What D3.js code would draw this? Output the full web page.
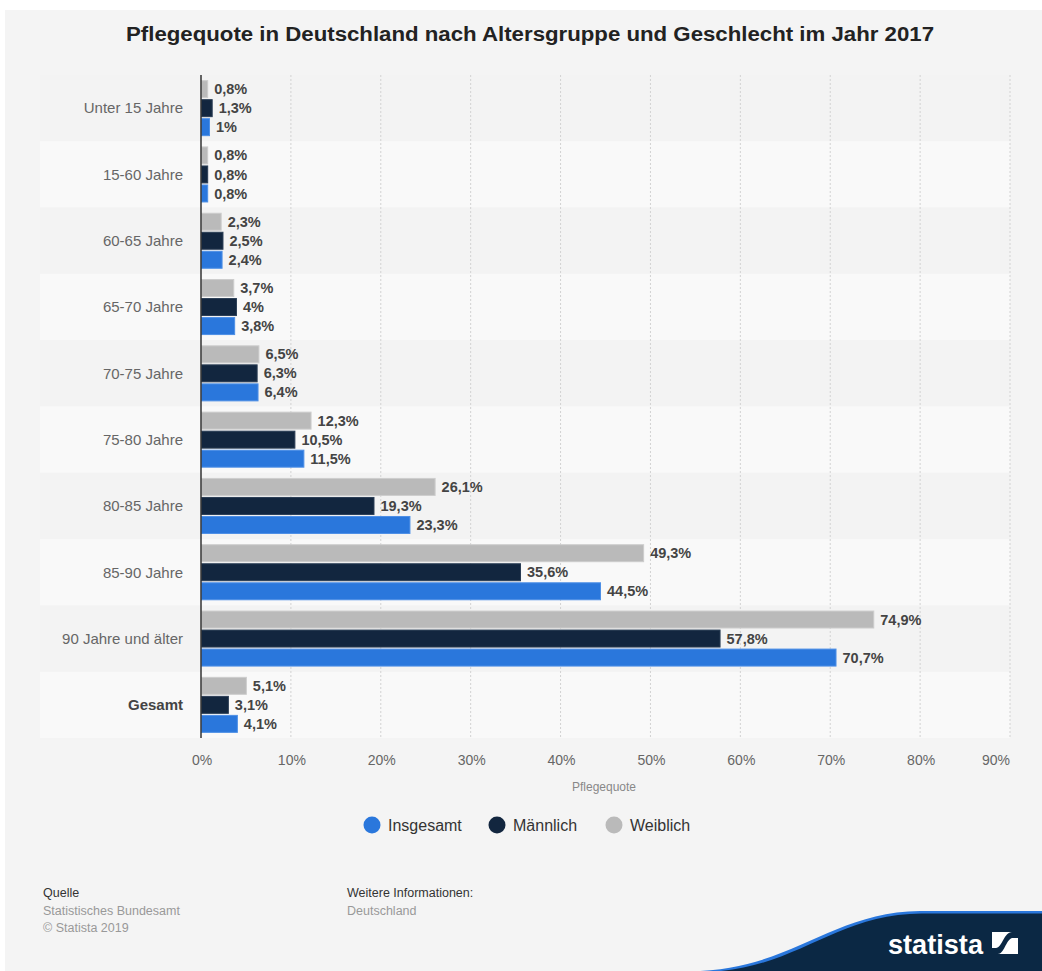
<!DOCTYPE html>
<html>
<head>
<meta charset="utf-8">
<script src="https://cdn.jsdelivr.net/npm/d3@7/dist/d3.min.js"></script>
<style>
  html, body { margin: 0; padding: 0; background: #ffffff; }
  svg { display: block; font-family: "Liberation Sans", Arial, Helvetica, sans-serif; }
</style>
</head>
<body>
<svg id="chart" width="1042" height="971"></svg>
<script>
// ---- Data ----
const categories = ["Unter 15 Jahre", "15-60 Jahre", "60-65 Jahre", "65-70 Jahre", "70-75 Jahre",
  "75-80 Jahre", "80-85 Jahre", "85-90 Jahre", "90 Jahre und älter", "Gesamt"];
const weiblich  = [0.8, 0.8, 2.3, 3.7, 6.5, 12.3, 26.1, 49.3, 74.9, 5.1];
const maennlich = [1.3, 0.8, 2.5, 4.0, 6.3, 10.5, 19.3, 35.6, 57.8, 3.1];
const insgesamt = [1.0, 0.8, 2.4, 3.8, 6.4, 11.5, 23.3, 44.5, 70.7, 4.1];
const seriesNames = ["Weiblich", "Männlich", "Insgesamt"];
const legendOrder = ["Insgesamt", "Männlich", "Weiblich"];
const tickValues = [0, 10, 20, 30, 40, 50, 60, 70, 80, 90];
const colors = { "Insgesamt": "#2a77dc", "Männlich": "#12263f", "Weiblich": "#bababa" };
const strokes = { "Insgesamt": "#4d8fe6", "Männlich": "#2a3d55", "Weiblich": "#cdcdcd" };

const seriesValues = { "Weiblich": weiblich, "Männlich": maennlich, "Insgesamt": insgesamt };

const svg = d3.select("#chart");

// background panel
svg.append("rect").attr("x", 5).attr("y", 10).attr("width", 1037).attr("height", 961).attr("fill", "#f4f4f4");

// title
svg.append("text").attr("x", 530).attr("y", 41).attr("text-anchor", "middle")
  .attr("font-size", 20).attr("font-weight", "bold").attr("fill", "#222")
  .attr("textLength", 808).attr("lengthAdjust", "spacingAndGlyphs")
  .text("Pflegequote in Deutschland nach Altersgruppe und Geschlecht im Jahr 2017");

// scales
const x = d3.scaleLinear().domain([0, 90]).range([201, 1010]);
const y = d3.scaleBand().domain(categories).range([75, 738]);
const yInner = d3.scaleBand().domain(seriesNames).range([0, y.bandwidth()])
  .paddingInner(0.055).paddingOuter(0.27);

// alternating row backgrounds
svg.append("g").selectAll("rect").data(categories).join("rect")
  .attr("x", 40).attr("width", x(90) - 40)
  .attr("y", d => y(d)).attr("height", y.bandwidth())
  .attr("fill", (d, i) => i % 2 === 0 ? "#f3f3f3" : "#f9f9f9");

// grid lines
svg.append("g").selectAll("line").data(tickValues.filter(t => t > 0)).join("line")
  .attr("x1", d => x(d)).attr("x2", d => x(d))
  .attr("y1", 75).attr("y2", 738)
  .attr("stroke", "#d2d2d2").attr("stroke-width", 1).attr("stroke-dasharray", "2,2");

// bars
const rows = categories.map((c, i) => ({ cat: c, i }));
const groups = svg.append("g").selectAll("g").data(rows).join("g")
  .attr("transform", d => `translate(0,${y(d.cat)})`);

const fmt = v => String(v).replace(".", ",") + "%";

groups.each(function (r) {
  const g = d3.select(this);
  const items = seriesNames.map(s => ({ s, v: seriesValues[s][r.i] }));
  g.selectAll("rect").data(items).join("rect")
    .attr("x", x(0) + 0.5)
    .attr("y", d => yInner(d.s) + 0.5)
    .attr("width", d => Math.max(0, x(d.v) - x(0) - 1))
    .attr("height", yInner.bandwidth() - 1)
    .attr("fill", d => colors[d.s])
    .attr("stroke", d => strokes[d.s]).attr("stroke-width", 1);
  g.selectAll("text").data(items).join("text")
    .attr("x", d => x(d.v) + 6)
    .attr("y", d => yInner(d.s) + yInner.bandwidth() / 2)
    .attr("dy", "0.35em")
    .attr("font-size", 14.5).attr("font-weight", "bold").attr("fill", "#444")
    .text(d => fmt(d.v));
});

// axis line at 0
svg.append("line").attr("x1", x(0)).attr("x2", x(0)).attr("y1", 75).attr("y2", 738)
  .attr("stroke", "#333").attr("stroke-width", 1.5);

// category labels
svg.append("g").selectAll("text").data(categories).join("text")
  .attr("x", 183).attr("y", d => y(d) + y.bandwidth() / 2).attr("dy", "0.35em")
  .attr("text-anchor", "end").attr("font-size", 15)
  .attr("font-weight", d => d === "Gesamt" ? "bold" : "normal")
  .attr("fill", d => d === "Gesamt" ? "#444" : "#666")
  .text(d => d);

// x tick labels
svg.append("g").selectAll("text").data(tickValues).join("text")
  .attr("x", (d, i) => i === tickValues.length - 1 ? x(d) : x(d) + 1)
  .attr("y", 760).attr("dy", "0.35em")
  .attr("text-anchor", (d, i) => i === tickValues.length - 1 ? "end" : "middle")
  .attr("font-size", 14).attr("fill", "#666")
  .text(d => d + "%");

// axis title
svg.append("text").attr("x", 604).attr("y", 787).attr("dy", "0.35em").attr("text-anchor", "middle")
  .attr("font-size", 12).attr("fill", "#888").text("Pflegequote");

// legend
const legendX = [372, 497, 614];
const lg = svg.append("g").selectAll("g").data(legendOrder).join("g")
  .attr("transform", (d, i) => `translate(${legendX[i]},825)`);
lg.append("circle").attr("r", 8.5).attr("fill", d => colors[d]);
lg.append("text").attr("x", 16).attr("dy", "0.35em").attr("font-size", 16).attr("fill", "#333").text(d => d);

// footer
const foot = svg.append("g").attr("font-size", 12.5);
foot.append("text").attr("x", 43).attr("y", 897).attr("fill", "#333").text("Quelle");
foot.append("text").attr("x", 43).attr("y", 915).attr("fill", "#999").text("Statistisches Bundesamt");
foot.append("text").attr("x", 43).attr("y", 932).attr("fill", "#999").text("© Statista 2019");
foot.append("text").attr("x", 347).attr("y", 897).attr("fill", "#333").text("Weitere Informationen:");
foot.append("text").attr("x", 347).attr("y", 915).attr("fill", "#999").text("Deutschland");

// statista logo wave
const wave = "M 690 971 C 790 971, 830 912, 920 911 L 1042 911 L 1042 971 Z";
svg.append("path").attr("d", wave).attr("fill", "#2a77dc");
svg.append("path").attr("d", "M 700 972 C 795 972, 832 914, 922 913.5 L 1042 913.5 L 1042 972 Z").attr("fill", "#0b2844");
svg.append("text").attr("x", 888).attr("y", 954).attr("font-size", 27).attr("font-weight", "bold")
  .attr("fill", "#fff").attr("textLength", 95).attr("lengthAdjust", "spacingAndGlyphs").text("statista");
svg.append("rect").attr("x", 992).attr("y", 932).attr("width", 26).attr("height", 22).attr("fill", "#fff");
svg.append("path").attr("d", "M 992 954 L 998 954 C 1004 954, 1006 940, 1012 938 L 1018 938 L 1018 932 L 1012 932 C 1004 932, 1002 948, 996 948 L 992 948 Z")
  .attr("fill", "#0b2844");
</script>
</body>
</html>
